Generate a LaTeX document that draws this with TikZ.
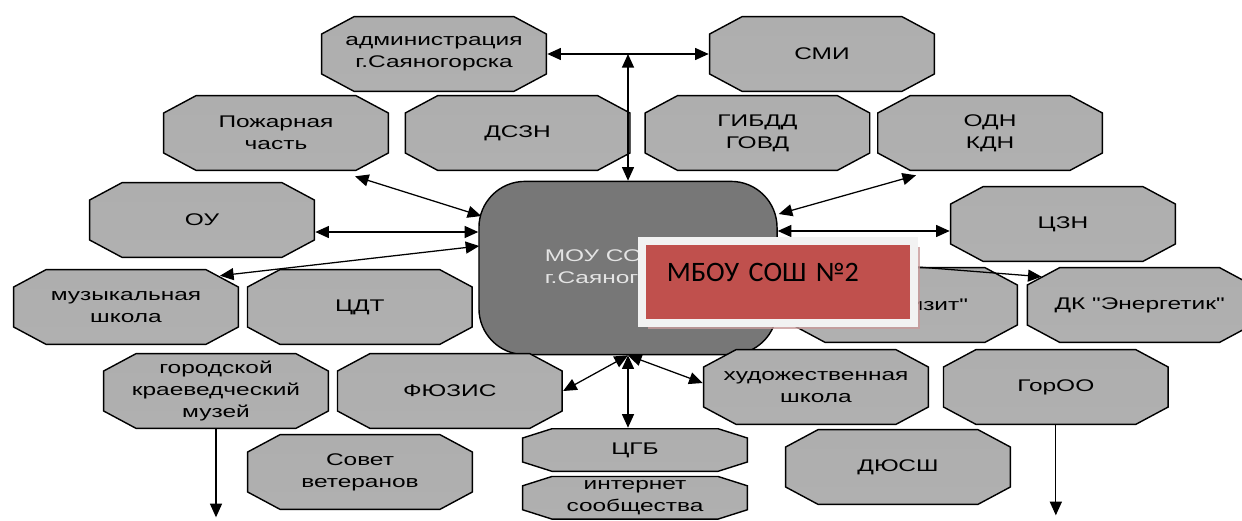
\documentclass[tikz,border=0pt]{standalone}
\usepackage{fontspec}
\setmainfont{Liberation Sans}[FakeStretch=1.45, Ligatures=TeXOff]
\newfontfamily\boxfont{Carlito}
\usepackage{tikz}
\usetikzlibrary{positioning,calc,arrows.meta,shadows}

\definecolor{octtop}{HTML}{AEAEAE}
\definecolor{octmid}{HTML}{9C9C9C}
\definecolor{octbot}{HTML}{B0B0B0}
\definecolor{hubfill}{HTML}{777777}
\definecolor{hubtext}{HTML}{E4E4E4}
\definecolor{boxred}{HTML}{C0504D}
\definecolor{boxrim}{HTML}{F2F2F2}
\definecolor{boxshade}{HTML}{C89A9A}

\begin{document}
\begin{tikzpicture}[
    x=0.025cm, y=-0.025cm,
    font=\fontsize{12}{15.5}\selectfont,
    octshape/.style 2 args={path picture={
        \path[draw, line width=1pt, top color=octtop, middle color=octmid, bottom color=octbot]
            ($(path picture bounding box.north west)+(#1,0.7)$)
            -- ($(path picture bounding box.north east)+(-#1,0.7)$)
            -- ($(path picture bounding box.north east)+(-0.7,#2)$)
            -- ($(path picture bounding box.south east)+(-0.7,-#2)$)
            -- ($(path picture bounding box.south east)+(-#1,-0.7)$)
            -- ($(path picture bounding box.south west)+(#1,-0.7)$)
            -- ($(path picture bounding box.south west)+(0.7,-#2)$)
            -- ($(path picture bounding box.north west)+(0.7,#2)$) -- cycle;}},
    octbox/.style={octshape={33}{18}, align=center, minimum width=5.65cm, minimum height=1.9cm, inner sep=0pt},
    flatbox/.style={octshape={30}{10}, align=center, minimum width=5.65cm, minimum height=1.1cm, inner sep=0pt},
    hub/.style={draw, line width=1pt, fill=hubfill, rounded corners=1.15cm, text=hubtext,
        align=left, minimum width=7.45cm, minimum height=4.33cm},
    redbox/.style={fill=boxred, draw=boxrim, line width=0.2cm, align=left,
        minimum width=6.8cm, text width=5.55cm, inner xsep=0.62cm, inner ysep=0.1cm,
        text height=0.9cm, text depth=0.95cm, font=\boxfont\fontsize{20}{24}\selectfont,
        drop shadow={shadow xshift=0.16cm, shadow yshift=-0.16cm, fill=boxshade, opacity=0.8}},
    link/.style={{Triangle[length=0.34cm,width=0.3cm]}-{Triangle[length=0.34cm,width=0.3cm]}, line width=0.9pt},
    tolink/.style={-{Triangle[length=0.34cm,width=0.3cm]}, line width=0.9pt}
]
\useasboundingbox (0,0) rectangle (1242,520);

% Top: administration and media
\node (admin) [octbox] at (434,54) {администрация\\г.Саяногорска};
\node (smi) [octbox] at (822,54) {СМИ};

% Second row
\node (fire) [octbox] at (276,133) {Пожарная\\часть};
\node (dszn) [octbox, right=0.375cm of fire] {ДСЗН};
\node (gibdd) [octbox, right=0.33cm of dszn] {ГИБДД\\ГОВД};
\node (odn) [octbox, right=0.15cm of gibdd] {ОДН\\КДН};

% Sides of the school
\node (ou) [octbox] at (202,220) {ОУ};
\node (czn) [octbox] at (1063,224) {ЦЗН};

\node (vizit) [octbox, text width=3.15cm, align=right] at (905,305) {изит"};
\node (dk) [octbox, right=0.2cm of vizit] {ДК "Энергетик"};

% School in the middle
\node (school) [hub] at (628,268) {МОУ СОШ №2\\г.Саяногорска};

\node (music) [octbox] at (126,307) {музыкальная\\школа};
\node (cdt) [octbox, right=0.18cm of music] {ЦДТ};

% Lower rows
\node (museum) [octbox] at (216,391) {городской\\краеведческий\\музей};
\node (fuzis) [octbox, right=0.18cm of museum] {ФЮЗИС};
\node (veterans) [octbox] at (360,472) {Совет\\ветеранов};

\node (cgb) [flatbox] at (635,450) {ЦГБ};
\node (inet) [flatbox, below=0.08cm of cgb] {интернет\\сообщества};

\node (art) [octbox] at (816,387) {художественная\\школа};
\node (goroo) [octbox, right=0.33cm of art] {ГорОО};
\node (dyussh) [octbox] at (898,467) {ДЮСШ};

% Links to the school
\coordinate (hubtop) at (school.north |- admin.east);
\draw[link] (admin) -- (smi);
\draw[link] (hubtop) -- (school.north);

\draw[link] ($(fire.south)+(79,5)$) -- ($(school.west)+(3,-52)$);
\coordinate (oulink) at ($(ou.east)+(0,12)$);
\draw[link] (oulink) -- (oulink -| school.west);
\draw[link] ($(school.west)+(1,-22)$) -- ($(music.north)+(94,7)$);

\draw[link] ($(school.east)+(1,-54)$) -- ($(odn.south)+(-74,4)$);
\coordinate (cznlink) at ($(czn.west)+(0,7)$);
\draw[link] (cznlink -| school.east) -- (cznlink);
\draw[link] ($(school.east)+(0,-12)$) -- ($(dk.north)+(-98,10)$);

\draw[link] (school.south) -- (fuzis.east);
\draw[link] (school.south) -- (school.south |- cgb.north);
\draw[link] (school.south) -- ($(art.west)+(0,-4)$);

% Down from the museum and GorOO
\coordinate (museumend) at ($(museum.south)+(0,88)$);
\draw[tolink] (museum) -- (museumend);
\coordinate (gorooend) at ($(goroo.south)+(0,90)$);
\draw[tolink] (goroo) -- (gorooend);

% Correction on top
\node (fix) [redbox] at (778,282) {МБОУ СОШ №2};

\end{tikzpicture}
\end{document}
